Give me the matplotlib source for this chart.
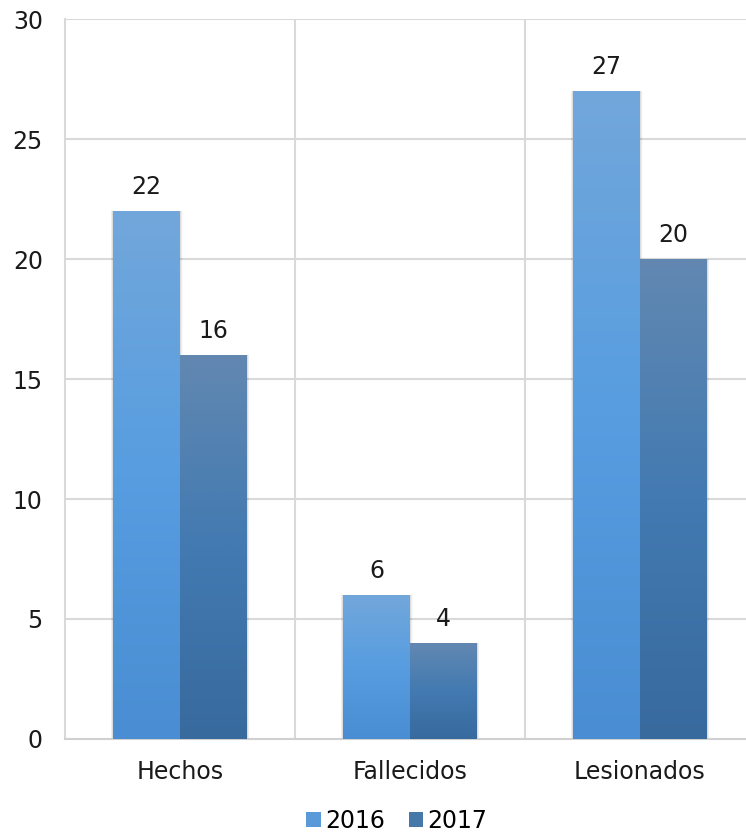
import numpy as np
import matplotlib
matplotlib.use("Agg")
import matplotlib.pyplot as plt
from matplotlib.patches import Rectangle
from matplotlib.colors import LinearSegmentedColormap

categories = ["Hechos", "Fallecidos", "Lesionados"]
series_names = ["2016", "2017"]
values_2016 = [22, 6, 27]
values_2017 = [16, 4, 20]
y_ticks = [0, 5, 10, 15, 20, 25, 30]

plt.rcParams['font.family'] = ['DejaVu Sans']
FS = 17

fig = plt.figure(figsize=(7.46, 8.34), dpi=100)
ax = fig.add_axes([65/746, 1-739/834, 690/746, 720/834])

grads = {
    "2016": ["#4a8dd2", "#579de0", "#72a7db"],
    "2017": ["#386a9e", "#427ab1", "#6288b1"],
}
mid = {"2016": "#5a9ad9", "2017": "#4678aa"}

bw = 0.29
x = np.arange(len(categories))
ax.set_xlim(-0.5, 2.5)
ax.set_ylim(0, 30)

for si, (name, vals) in enumerate(zip(series_names, [values_2016, values_2017])):
    cmap = LinearSegmentedColormap.from_list(name, grads[name])
    grad = np.linspace(0, 1, 256).reshape(-1, 1)
    offs = -bw/2 if si == 0 else bw/2
    for xi, v in zip(x, vals):
        x0 = xi + offs - bw/2
        # soft side shadow
        for k, a in enumerate([0.07, 0.045, 0.025]):
            sh = Rectangle((x0 - 0.004*(k+1), 0), bw + 0.008*(k+1), v,
                           facecolor="black", alpha=a, edgecolor="none", zorder=2)
            ax.add_patch(sh)
        rect = Rectangle((x0, 0), bw, v, facecolor="none", edgecolor="none", zorder=3)
        ax.add_patch(rect)
        im = ax.imshow(grad, cmap=cmap, origin="lower", aspect="auto",
                       extent=(x0, x0 + bw, 0, v), zorder=3, interpolation="bilinear")
        im.set_clip_path(rect)
        ax.annotate(f"{v}", (xi + offs, v), xytext=(0, 9), textcoords="offset points",
                    ha="center", va="bottom", fontsize=FS, color="#1a1a1a", zorder=5)

ax.set_xlim(-0.5, 2.5)
ax.set_ylim(0, 30)
ax.set_yticks(y_ticks)
ax.set_yticklabels([str(t) for t in y_ticks], fontsize=FS, color="#1a1a1a")
ax.set_xticks(x)
ax.set_xticklabels(categories, fontsize=FS, color="#1a1a1a")
ax.tick_params(axis="both", length=0)
ax.tick_params(axis="y", pad=16)
ax.tick_params(axis="x", pad=15)

for t in y_ticks[1:]:
    ax.axhline(t, color="#d9d9d9", lw=1.5, zorder=1)
for b in [0.5, 1.5]:
    ax.axvline(b, color="#d9d9d9", lw=1.5, zorder=1)

for s in ["top", "right"]:
    ax.spines[s].set_visible(False)
ax.spines["left"].set_color("#d9d9d9")
ax.spines["left"].set_linewidth(1.5)
ax.spines["bottom"].set_color("#d0d0d0")
ax.spines["bottom"].set_linewidth(1.5)

handles = [Rectangle((0, 0), 1, 1, facecolor=mid[n], edgecolor="none") for n in series_names]
fig.legend(handles, series_names, loc="center", bbox_to_anchor=(397/746, 1-821/834),
           ncol=2, frameon=False, fontsize=FS, handlelength=0.6, handleheight=0.6,
           handletextpad=0.2, columnspacing=1.0, borderpad=0)

fig.savefig("out.png", dpi=100)
